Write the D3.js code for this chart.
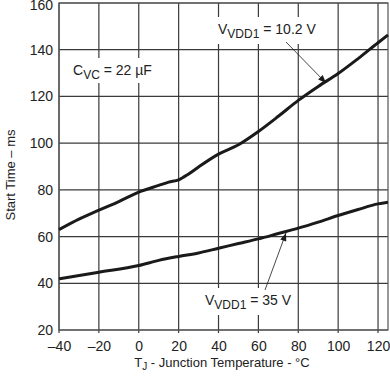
<!DOCTYPE html>
<html>
<head>
<meta charset="utf-8">
<script src="https://cdn.jsdelivr.net/npm/d3@7"></script>
<style>
body { margin: 0; background: #fff; }
text { font-family: "Liberation Sans", Arial, sans-serif; fill: #222; }
</style>
</head>
<body>
<div id="chart"></div>
<script>
// temperature (°C) and start time (ms)
const tempHigh = [-40, -30, -20, -10, 0, 10, 15, 20, 25, 30, 40, 50, 60, 70, 80, 90, 100, 110, 120, 125];
const startHigh = [63, 67.5, 71.3, 75, 79, 81.9, 83.3, 84.3, 86.8, 89.8, 95.3, 99.3, 105, 111.5, 118.3, 124.3, 129.8, 136.2, 143, 146.3];
const tempLow = [-40, -20, 0, 10, 20, 30, 40, 50, 60, 70, 80, 90, 100, 110, 120, 125];
const startLow = [41.9, 44.7, 47.6, 49.8, 51.5, 53, 55, 57, 59, 61.3, 63.6, 66.2, 69, 71.6, 74, 74.7];
const xTicks = [-40, -20, 0, 20, 40, 60, 80, 100, 120];
const yTicks = [20, 40, 60, 80, 100, 120, 140, 160];

var width = 390, height = 377;
var margin = {top: 3, right: 2, bottom: 47, left: 59};

var svg = d3.select("#chart").append("svg")
	.attr("width", width)
	.attr("height", height);

var x = d3.scaleLinear().domain([-40, 125]).range([margin.left, width - margin.right]);
var y = d3.scaleLinear().domain([20, 160]).range([height - margin.bottom, margin.top]);

var grid = svg.append("g");
grid.selectAll(".vg")
	.data(xTicks)
	.enter().append("line")
	.attr("x1", function(d){ return x(d) })
	.attr("x2", function(d){ return x(d) })
	.attr("y1", y(160))
	.attr("y2", y(20) + 3)
	.attr("stroke", "#3a3a3a")
	.attr("stroke-width", 1.2);
grid.selectAll(".hg")
	.data(yTicks)
	.enter().append("line")
	.attr("x1", x(-40))
	.attr("x2", x(125))
	.attr("y1", function(d){ return y(d) })
	.attr("y2", function(d){ return y(d) })
	.attr("stroke", "#3a3a3a")
	.attr("stroke-width", 1.2);

svg.append("rect")
	.attr("x", x(-40))
	.attr("y", y(160))
	.attr("width", x(125) - x(-40))
	.attr("height", y(20) - y(160))
	.attr("fill", "none")
	.attr("stroke", "#555")
	.attr("stroke-width", 1.2);

// axes (labels only, the frame is drawn above)
var xAxis = svg.append("g")
	.attr("transform", "translate(0," + y(20) + ")")
	.call(d3.axisBottom(x).tickValues(xTicks).tickSize(0).tickPadding(11)
		.tickFormat(function(d){ return d < 0 ? "–" + Math.abs(d) : d }));
xAxis.select(".domain").remove();
xAxis.selectAll("text").style("font-size", "14px").attr("fill", "#222");

var yAxis = svg.append("g")
	.attr("transform", "translate(" + x(-40) + ",0)")
	.call(d3.axisLeft(y).tickValues(yTicks).tickSize(0).tickPadding(6));
yAxis.select(".domain").remove();
yAxis.selectAll("text").style("font-size", "14px").attr("fill", "#222");
// top label sits against the edge, nudge it down so it is not clipped
yAxis.selectAll("text").filter(function(d){ return d == 160 }).attr("y", 2);

// curves
var line = d3.line()
	.x(function(d){ return x(d[0]) })
	.y(function(d){ return y(d[1]) })
	.curve(d3.curveMonotoneX);

svg.append("path")
	.datum(tempHigh.map(function(t, i){ return [t, startHigh[i]] }))
	.attr("d", line)
	.attr("fill", "none")
	.attr("stroke", "#1a1a1a")
	.attr("stroke-width", 3);

svg.append("path")
	.datum(tempLow.map(function(t, i){ return [t, startLow[i]] }))
	.attr("d", line)
	.attr("fill", "none")
	.attr("stroke", "#1a1a1a")
	.attr("stroke-width", 3);

// annotations
svg.append("defs").append("marker")
	.attr("id", "arr")
	.attr("viewBox", "0 0 10 10")
	.attr("refX", 10).attr("refY", 5)
	.attr("markerWidth", 9).attr("markerHeight", 8)
	.attr("markerUnits", "userSpaceOnUse")
	.attr("orient", "auto")
	.append("path")
	.attr("d", "M0,1 L10,5 L0,9 Z")
	.attr("fill", "#1a1a1a");

function label(px, py, sub, rest, bw, bh){
	svg.append("rect")
		.attr("x", px - 4).attr("y", py - 17)
		.attr("width", bw).attr("height", bh)
		.attr("fill", "#fff");
	var t = svg.append("text")
		.attr("x", px).attr("y", py)
		.style("font-size", "14px");
	t.append("tspan").text(sub[0]);
	t.append("tspan").attr("dy", 4).style("font-size", "12px").text(sub[1]);
	t.append("tspan").attr("dy", -4).text(rest);
}

label(73, 75, ["C", "VC"], " = 22 µF", 88, 25);
label(218, 34, ["V", "VDD1"], " = 10.2 V", 114, 27);
label(205, 305, ["V", "VDD1"], " = 35 V", 94, 27);

svg.append("line")
	.attr("x1", 286).attr("y1", 42)
	.attr("x2", 326).attr("y2", 83)
	.attr("stroke", "#1a1a1a").attr("stroke-width", 0.8)
	.attr("marker-end", "url(#arr)");

svg.append("line")
	.attr("x1", 265).attr("y1", 290)
	.attr("x2", 286).attr("y2", 233)
	.attr("stroke", "#1a1a1a").attr("stroke-width", 0.8)
	.attr("marker-end", "url(#arr)");

// axis titles
var xt = svg.append("text")
	.attr("x", 222).attr("y", 367)
	.attr("text-anchor", "middle")
	.style("font-size", "13px");
xt.append("tspan").text("T");
xt.append("tspan").attr("dy", 3).style("font-size", "10px").text("J");
xt.append("tspan").attr("dy", -3).text(" - Junction Temperature - °C");

svg.append("text")
	.attr("transform", "translate(15,175) rotate(-90)")
	.attr("text-anchor", "middle")
	.style("font-size", "13px")
	.text("Start Time – ms");
</script>
</body>
</html>
